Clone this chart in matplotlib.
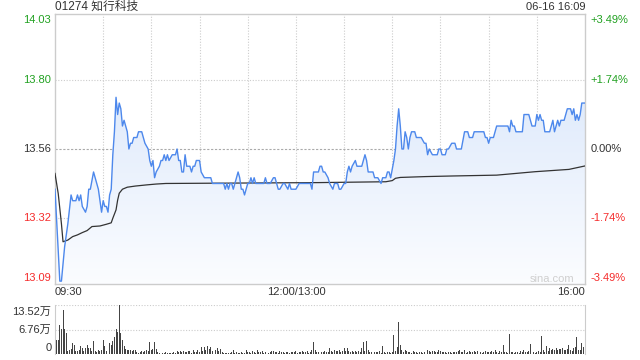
import matplotlib
matplotlib.use("Agg")
import matplotlib.pyplot as plt
import numpy as np

plt.rcParams['font.family'] = ['Liberation Sans', 'Noto Sans CJK SC', 'DejaVu Sans']

# minutes since 09:30 (lunch break squeezed out), last price in HKD
price_min = [0, 3, 4, 6, 8, 10, 11, 13, 14, 15, 16, 17, 19, 20, 21, 22, 24, 25, 27, 28,
             29, 30, 31, 32, 33, 34, 35, 36, 37, 38, 39, 40, 41, 42, 43, 44, 45, 46, 47, 48,
             49, 51, 52, 54, 55, 56, 58, 59, 60, 61, 62, 63, 65, 66, 67, 68, 69, 70, 71, 73,
             75, 76, 77, 78, 79, 80, 81, 82, 84, 85, 86, 87, 88, 90, 91, 93, 97, 98, 105, 106,
             107, 108, 109, 110, 111, 112, 114, 115, 116, 117, 118, 119, 120, 121, 122, 123, 124, 125, 130, 131,
             132, 134, 136, 137, 138, 139, 140, 142, 143, 145, 146, 147, 150, 152, 159, 160, 161, 164, 165, 166,
             167, 168, 170, 171, 173, 174, 176, 177, 178, 180, 181, 182, 183, 184, 185, 187, 188, 191, 193, 194,
             195, 198, 199, 201, 203, 204, 205, 206, 207, 208, 209, 211, 212, 213, 214, 215, 216, 217, 218, 219,
             220, 221, 222, 224, 225, 228, 230, 231, 232, 233, 235, 238, 239, 240, 241, 243, 244, 245, 247, 249,
             250, 253, 255, 257, 258, 260, 261, 267, 268, 269, 270, 271, 273, 275, 282, 283, 284, 285, 286, 287,
             291, 292, 295, 296, 297, 299, 300, 301, 302, 303, 304, 305, 308, 309, 310, 311, 312, 313, 314, 315,
             317, 318, 319, 321, 322, 323, 324, 325, 326, 327, 328, 330]
price_val = [13.42, 13.10, 13.10, 13.22, 13.30, 13.40, 13.38, 13.38, 13.40, 13.38, 13.40, 13.36, 13.34, 13.36, 13.42, 13.42, 13.48, 13.46, 13.42, 13.38,
             13.34, 13.38, 13.36, 13.36, 13.34, 13.40, 13.42, 13.54, 13.62, 13.74, 13.68, 13.72, 13.70, 13.64, 13.66, 13.64, 13.62, 13.56, 13.58, 13.58,
             13.60, 13.60, 13.62, 13.62, 13.60, 13.58, 13.56, 13.52, 13.50, 13.52, 13.46, 13.48, 13.50, 13.52, 13.52, 13.54, 13.52, 13.54, 13.52, 13.54,
             13.54, 13.56, 13.52, 13.52, 13.48, 13.48, 13.54, 13.50, 13.50, 13.48, 13.50, 13.50, 13.52, 13.52, 13.48, 13.46, 13.46, 13.44, 13.44, 13.42,
             13.44, 13.42, 13.44, 13.44, 13.42, 13.44, 13.48, 13.46, 13.42, 13.42, 13.40, 13.42, 13.44, 13.44, 13.46, 13.44, 13.46, 13.44, 13.44, 13.46,
             13.44, 13.44, 13.46, 13.46, 13.44, 13.42, 13.42, 13.44, 13.44, 13.42, 13.44, 13.42, 13.42, 13.44, 13.44, 13.42, 13.48, 13.48, 13.50, 13.50,
             13.48, 13.48, 13.46, 13.44, 13.42, 13.44, 13.44, 13.42, 13.42, 13.44, 13.44, 13.48, 13.50, 13.48, 13.50, 13.52, 13.50, 13.50, 13.54, 13.52,
             13.48, 13.48, 13.46, 13.46, 13.44, 13.46, 13.46, 13.46, 13.48, 13.48, 13.46, 13.52, 13.56, 13.64, 13.70, 13.64, 13.56, 13.56, 13.62, 13.60,
             13.56, 13.60, 13.62, 13.62, 13.60, 13.60, 13.58, 13.58, 13.54, 13.56, 13.54, 13.54, 13.56, 13.56, 13.54, 13.54, 13.56, 13.56, 13.58, 13.58,
             13.56, 13.56, 13.62, 13.62, 13.60, 13.60, 13.62, 13.62, 13.60, 13.60, 13.58, 13.60, 13.60, 13.64, 13.64, 13.62, 13.66, 13.64, 13.64, 13.62,
             13.62, 13.68, 13.68, 13.66, 13.64, 13.64, 13.68, 13.66, 13.68, 13.66, 13.66, 13.62, 13.62, 13.64, 13.66, 13.62, 13.64, 13.66, 13.64, 13.66,
             13.66, 13.68, 13.70, 13.70, 13.68, 13.70, 13.66, 13.68, 13.66, 13.68, 13.72, 13.72]

# average price line
avg_min = [0, 2, 4, 5, 8, 11, 14, 17, 20, 23, 28, 32, 35, 36, 38, 39, 40, 42, 45, 50,
           57, 63, 69, 164, 206, 210, 212, 215, 231, 247, 275, 299, 320, 330]
avg_val = [13.475, 13.405, 13.300, 13.237, 13.243, 13.255, 13.261, 13.269, 13.276, 13.290,
           13.292, 13.298, 13.303, 13.319, 13.348, 13.382, 13.406, 13.420, 13.427, 13.431,
           13.435, 13.438, 13.440, 13.443, 13.446, 13.450, 13.458, 13.461, 13.464, 13.466,
           13.469, 13.481, 13.489, 13.501]

# volume per minute, in 万 shares
volume = [8.9, 3.9, 3.9, 8.0, 6.9, 12.1, 6.9, 5.8, 0.7, 1.2,
          1.4, 3.0, 2.6, 0.7, 0.7, 1.0, 2.1, 1.6, 0.7, 1.6,
          2.6, 1.6, 1.6, 0.7, 3.7, 0.7, 0.5, 1.0, 0.7, 1.0,
          3.9, 2.3, 0.7, 1.6, 3.0, 2.5, 3.5, 4.8, 6.9, 6.2,
          13.52, 5.8, 3.9, 2.1, 1.4, 1.2, 1.0, 1.2, 0.9, 1.1,
          1.0, 0.6, 0.4, 0.5, 0.8, 0.6, 0.9, 1.2, 0.8, 3.2,
          1.0, 1.5, 3.2, 1.5, 0.6, 0.4, 0.3, 0.4, 0.3, 0.5,
          0.3, 0.4, 0.3, 0.4, 0.5, 0.3, 0.8, 0.6, 0.9, 0.5,
          0.8, 0.6, 0.5, 0.9, 0.7, 0.4, 1.0, 0.6, 0.5, 1.2,
          0.6, 1.8, 0.8, 2.0, 1.2, 2.1, 1.4, 1.8, 0.9, 2.1,
          1.2, 1.6, 0.8, 1.4, 0.6, 0.3, 0.4, 0.3, 0.4, 0.3,
          0.5, 1.2, 0.4, 0.6, 0.3, 0.4, 0.5, 0.3, 0.4, 1.2,
          0.5, 0.6, 0.4, 0.7, 0.5, 0.4, 1.0, 0.6, 0.5, 0.7,
          0.4, 0.5, 0.6, 0.4, 0.5, 0.7, 0.8, 0.5, 0.6, 0.4,
          0.7, 0.5, 0.6, 0.4, 0.5, 0.6, 0.4, 0.5, 0.6, 0.5,
          0.7, 0.4, 0.6, 0.5, 0.7, 0.6, 0.5, 0.8, 0.4, 0.6,
          1.0, 3.2, 1.2, 0.6, 0.5, 0.4, 0.6, 0.5, 0.7, 0.5,
          0.6, 1.6, 0.8, 0.5, 1.0, 0.7, 0.8, 1.0, 0.6, 0.7,
          1.6, 0.9, 1.6, 0.8, 0.6, 0.7, 0.5, 0.8, 0.6, 0.7,
          0.5, 1.6, 3.3, 0.8, 3.7, 1.0, 0.6, 0.5, 0.4, 0.6,
          0.5, 0.6, 0.7, 0.4, 2.3, 0.5, 0.4, 0.6, 0.5, 0.4,
          0.6, 5.3, 0.8, 1.9, 8.8, 2.6, 1.2, 0.6, 1.2, 0.7,
          0.5, 0.6, 0.4, 0.7, 0.5, 0.6, 0.4, 0.5, 0.6, 0.4,
          0.6, 0.5, 1.2, 0.7, 0.6, 0.8, 0.7, 0.6, 0.5, 1.0,
          0.7, 0.6, 0.5, 0.6, 0.4, 0.5, 0.6, 0.4, 0.5, 0.6,
          0.5, 0.7, 1.0, 0.6, 0.5, 1.0, 0.4, 0.6, 0.7, 0.5,
          0.6, 0.8, 0.5, 0.7, 0.6, 0.5, 0.4, 0.6, 0.7, 0.5,
          0.6, 0.5, 0.7, 0.6, 1.2, 0.5, 0.4, 0.7, 0.6, 2.6,
          0.5, 0.6, 0.4, 5.6, 0.6, 0.5, 0.4, 0.5, 0.6, 0.4,
          0.7, 0.5, 1.0, 0.6, 0.5, 0.7, 2.8, 0.6, 0.5, 0.4,
          0.6, 0.7, 0.5, 5.0, 1.2, 0.6, 2.3, 0.8, 1.6, 1.2,
          1.5, 1.2, 1.6, 1.0, 1.4, 1.3, 1.6, 1.0, 1.2, 1.4,
          2.6, 1.0, 0.8, 1.6, 1.9, 4.8, 1.2, 1.0, 3.0, 1.9,
          1.2]

price_ticks = [14.03, 13.80, 13.56, 13.32, 13.09]
pct_labels = ['+3.49%', '+1.74%', '0.00%', '-1.74%', '-3.49%']
time_ticks = [0, 150, 330]
time_labels = ['09:30', '12:00/13:00', '16:00']
vol_ticks = [13.52, 6.76, 0]
vol_labels = ['13.52万', '6.76万', '0']

GREEN = '#21a121'
RED = '#f52c2c'
DARK = '#333333'
GRID = '#cccccc'
BLUE = '#4d88ec'

fig = plt.figure(figsize=(6.4, 3.6), dpi=100)
W, H = 640.0, 360.0

# price panel
ax = fig.add_axes([55 / W, 76 / H, 530 / W, 270 / H])
ax.set_xlim(0, 330)
ax.set_ylim(13.09, 14.03)
ax.set_xticks([])
ax.set_yticks([])
for s in ax.spines.values():
    s.set_color(GRID)
    s.set_linewidth(1)

for m in range(30, 330, 30):
    ax.axvline(m, color=GRID, lw=0.8, ls=(0, (1, 1.5)), zorder=1)
for v in price_ticks[1:-1]:
    if v == 13.56:
        ax.axhline(v, color='#aaaaaa', lw=0.8, ls=(0, (2, 1.5)), zorder=1)
    else:
        ax.axhline(v, color=GRID, lw=0.8, ls=(0, (1, 1.5)), zorder=1)

# gradient fill under price line
fill = ax.fill_between(price_min, price_val, 13.09, color='none', lw=0)
grad = np.linspace(0, 1, 256).reshape(-1, 1)
top_c = np.array([0.83, 0.89, 0.98])
bot_c = np.array([0.985, 0.99, 1.0])
img = top_c + (bot_c - top_c) * grad
im = ax.imshow(img.reshape(256, 1, 3), extent=[0, 330, 13.09, 14.03], aspect='auto',
               origin='upper', zorder=2)
im.set_clip_path(fill.get_paths()[0], transform=ax.transData)

ax.plot(price_min, price_val, color=BLUE, lw=1.0, zorder=4)
ax.plot(avg_min, avg_val, color=DARK, lw=0.9, zorder=3)

trans_y = ax.get_yaxis_transform()
for i, (v, p) in enumerate(zip(price_ticks, pct_labels)):
    if v > 13.56:
        c = GREEN
    elif v < 13.56:
        c = RED
    else:
        c = DARK
    va = 'top' if i == 0 else ('bottom' if i == len(price_ticks) - 1 else 'center')
    off = -0.002 if i == 0 else (0.002 if i == len(price_ticks) - 1 else 0)
    ax.text(-0.007, v + off, f'{v:.2f}', transform=trans_y, ha='right', va=va,
            color=c, fontsize=8)
    ax.text(1.01, v + off, p, transform=trans_y, ha='left', va=va, color=c, fontsize=8)

trans_x = ax.get_xaxis_transform()
ax.text(time_ticks[0], -0.03, time_labels[0], transform=trans_x, ha='left', va='center',
        color=DARK, fontsize=8)
ax.text(time_ticks[1], -0.03, time_labels[1], transform=trans_x, ha='center', va='center',
        color=DARK, fontsize=8)
ax.text(time_ticks[2], -0.03, time_labels[2], transform=trans_x, ha='right', va='center',
        color=DARK, fontsize=8)

ax.text(0, 1.026, '01274 知行科技', transform=ax.transAxes, ha='left', va='center',
        color=DARK, fontsize=8.5)
ax.text(1, 1.026, '06-16 16:09', transform=ax.transAxes, ha='right', va='center',
        color=DARK, fontsize=8)
ax.text(0.98, 0.02, 'sina.com', transform=ax.transAxes, ha='right', va='center',
        color='#cfcfcf', fontsize=8)

# volume panel
vax = fig.add_axes([55 / W, 6 / H, 530 / W, 49 / H])
vax.set_xlim(0, 330)
vax.set_ylim(0, 13.52)
vax.set_xticks([])
vax.set_yticks([])
vax.spines['top'].set_visible(False)
vax.spines['bottom'].set_visible(False)
vax.spines['left'].set_color(GRID)
vax.spines['right'].set_color(GRID)
vax.axhline(13.52, color=GRID, lw=0.8, ls=(0, (1, 1.5)))
vax.axhline(6.76, color=GRID, lw=0.8, ls=(0, (1, 1.5)))
vax.bar(range(len(volume)), volume, width=0.62, color='#444444', lw=0,
        antialiased=False, zorder=3)

vtrans = vax.get_yaxis_transform()
vax.text(-0.007, vol_ticks[0] - 1.9, vol_labels[0], transform=vtrans, ha='right', va='center',
         color=DARK, fontsize=8)
vax.text(-0.007, vol_ticks[1], vol_labels[1], transform=vtrans, ha='right', va='center',
         color=DARK, fontsize=8)
vax.text(-0.007, vol_ticks[2] + 1.7, vol_labels[2], transform=vtrans, ha='right', va='center',
         color=DARK, fontsize=8)

fig.savefig('out.png', dpi=100)
